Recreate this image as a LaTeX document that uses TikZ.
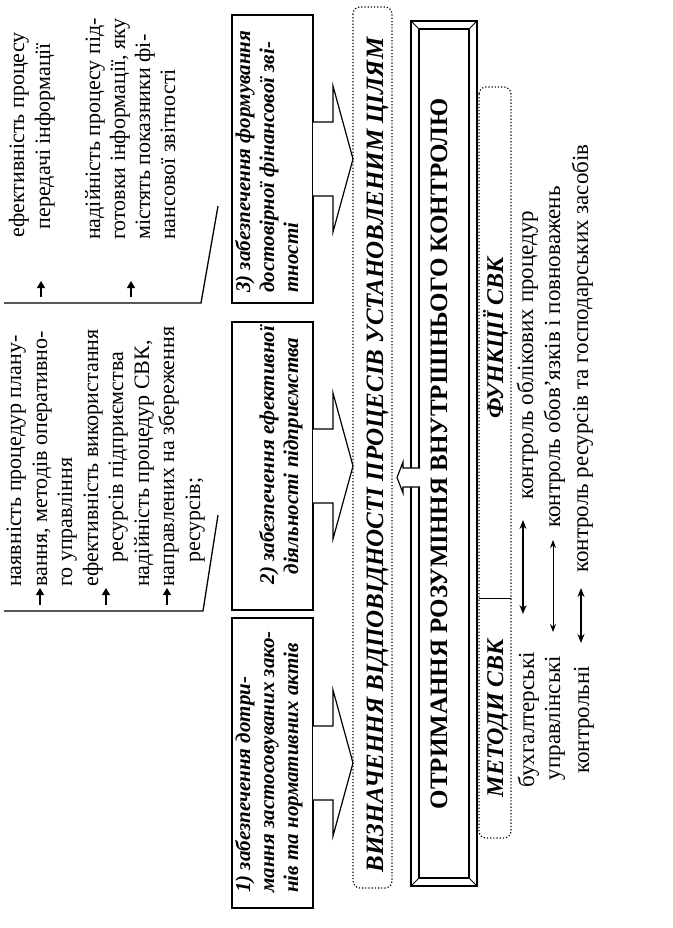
\documentclass[tikz,border=0pt]{standalone}
\usepackage{fontspec}
\setmainfont{Liberation Serif}
\usetikzlibrary{arrows.meta}
\begin{document}
\begin{tikzpicture}[x=1pt,y=-1pt,
  txt/.style={rotate=90,inner sep=0pt,font=\fontsize{22}{25}\selectfont},
  ftxt/.style={rotate=90,inner sep=0pt,font=\fontsize{23}{26}\selectfont},
  bi/.style={rotate=90,inner sep=0pt,font=\fontsize{21}{24}\selectfont\bfseries\itshape},
  bigbi/.style={rotate=90,inner sep=0pt,font=\fontsize{25}{28}\selectfont\bfseries\itshape},
  bigb/.style={rotate=90,inner sep=0pt,font=\fontsize{25}{28}\selectfont\bfseries},
  midbi/.style={rotate=90,inner sep=0pt,font=\fontsize{24}{27}\selectfont\bfseries\itshape},
  ln/.style={line width=1.3pt},
  dot/.style={line width=1.2pt,dotted,rounded corners=7pt},
  bullet/.style={line width=1.2pt,-{Triangle[length=7pt,width=8pt]}},
  dbl/.style={line width=1.3pt,{Stealth[length=9pt,width=7pt]}-{Stealth[length=9pt,width=7pt]}},
  dblthin/.style={line width=0.8pt,{Stealth[length=8pt,width=6pt]}-{Stealth[length=8pt,width=6pt]}},
  barrow/.style={line width=1.2pt,fill=white}
]
\useasboundingbox (0,0) rectangle (672,928);

% ---------- upper-left list ----------
\node[txt,anchor=base] (ua1) at (24,135) {ефективність процесу};
\node[txt,anchor=base] (ua2) at (50,136) {передачі інформації};
\node[txt,anchor=base west] (ub1) at (100,240) {надійність процесу під-};
\node[txt,anchor=base west] (ub2) at (125,240) {готовки інформації, яку};
\node[txt,anchor=base west] (ub3) at (150,240) {містять показники фі-};
\node[txt,anchor=base west] (ub4) at (175,240) {нансової звітності};
\draw[bullet] (41,297) -- (41,281);
\draw[bullet] (131,297) -- (131,281);
\draw[ln] (4,303) -- (201,303) -- (218,206);

% ---------- middle-left list ----------
\node[txt,anchor=base west] (m1) at (21,587) {наявність процедур плану-};
\node[txt,anchor=base west] (m2) at (47,587) {вання, методів оперативно-};
\node[txt,anchor=base west] (m3) at (72,587) {го управління};
\node[txt,anchor=base west] (m4) at (98,587) {ефективність використання};
\node[txt,anchor=base west] (m5) at (123,563) {ресурсів підприємства};
\node[txt,anchor=base west] (m6) at (149,587) {надійність процедур СВК,};
\node[txt,anchor=base west] (m7) at (174,587) {направлених на збереження};
\node[txt,anchor=base west] (m8) at (200,563) {ресурсів;};
\draw[bullet] (40,605) -- (40,588);
\draw[bullet] (106,605) -- (106,588);
\draw[bullet] (167,605) -- (167,588);
\draw[ln] (4,611) -- (203,611) -- (218,515);

% ---------- three boxes ----------
\draw[ln] (232,15) rectangle (313,303);
\draw[ln] (232,322) rectangle (313,610);
\draw[ln] (232,618) rectangle (313,908);
\node[bi,anchor=base west] (b3a) at (250,293) {3) забезпечення формування};
\node[bi,anchor=base west] (b3b) at (274,293) {достовірної фінансової зві-};
\node[bi,anchor=base west] (b3c) at (298,293) {тності};
\node[bi,anchor=base] (b2a) at (274,455) {2) забезпечення ефективної};
\node[bi,anchor=base] (b2b) at (298,456) {діяльності підприємства};
\node[bi,anchor=base west] (b1a) at (250,893) {1) забезпечення дотри-};
\node[bi,anchor=base west] (b1b) at (274,893) {мання застосовуваних зако-};
\node[bi,anchor=base west] (b1c) at (298,893) {нів та нормативних актів};

% block arrows from boxes
\foreach \c in {159,466,763}{
  \draw[barrow,line join=miter] (313,\c-37) -- (333,\c-37) -- (333,\c-73) -- (353,\c)
     -- (333,\c+73) -- (333,\c+37) -- (313,\c+37);
}

% ---------- goal (dotted) ----------
\draw[dot] (353,7) rectangle (392,888);
\node[bigbi,anchor=base] (goal) at (383,455) {ВИЗНАЧЕННЯ ВІДПОВІДНОСТІ ПРОЦЕСІВ УСТАНОВЛЕНИМ ЦІЛЯМ};

% ---------- frame ----------
\draw[ln] (411,21) rectangle (477,886);
\draw[ln] (419,29) rectangle (469,878);
\draw[line width=0.9pt] (411,21) -- (419,29) (477,21) -- (469,29)
   (411,886) -- (419,878) (477,886) -- (469,878);
\node[bigb,anchor=base] (under) at (447,454) {ОТРИМАННЯ РОЗУМІННЯ ВНУТРІШНЬОГО КОНТРОЛЮ};
\draw[barrow,line join=miter] (420,468) -- (403,468) -- (403,462) -- (397,477.5)
   -- (403,493) -- (403,487) -- (420,487);

% ---------- functions / methods ----------
\draw[dot] (479,87) rectangle (511,838);
\draw[line width=0.9pt] (479,598) -- (511,598);
\node[midbi,anchor=base] (func) at (503,338) {ФУНКЦІЇ СВК};
\node[midbi,anchor=base] (meth) at (503,718) {МЕТОДИ СВК};

\node[ftxt,anchor=base west] (f1) at (533,500) {контроль облікових процедур};
\node[ftxt,anchor=base west] (f2) at (560,528) {контроль обов’язків і повноважень};
\node[ftxt,anchor=base west] (f3) at (588,573) {контроль ресурсів та господарських засобів};

\node[ftxt,anchor=base] (e1) at (534,720) {бухгалтерські};
\node[ftxt,anchor=base] (e2) at (560,718) {управлінські};
\node[ftxt,anchor=base] (e3) at (589,720) {контрольні};

\draw[dbl] (523,520) -- (523,614);
\draw[dblthin] (553,540) -- (553,632);
\draw[dbl] (581,588) -- (581,643);
\end{tikzpicture}
\end{document}
